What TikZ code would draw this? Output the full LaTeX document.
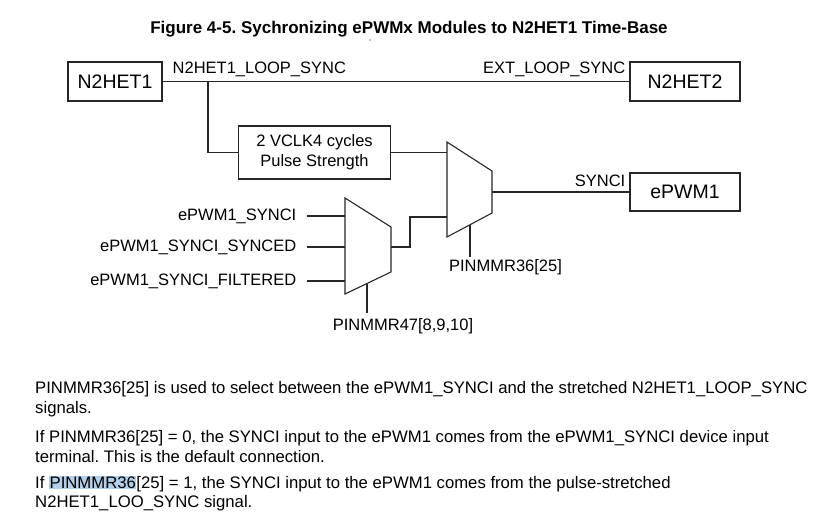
\documentclass[tikz,border=0pt]{standalone}
\usepackage{fontspec}
\setmainfont{Liberation Sans}
\usepackage{xcolor}
\usetikzlibrary{positioning}
\definecolor{selblue}{RGB}{178,208,234}
\frenchspacing

\begin{document}
\begin{tikzpicture}[x=1pt, y=-1pt,
        wire/.style={draw=black!85, line width=1.1pt},
        block/.style={rectangle, wire, inner sep=0pt, font=\fontsize{19.5}{21}\selectfont},
        delay/.style={rectangle, wire, inner sep=0pt, minimum width=152pt, minimum height=53pt, align=center, font=\fontsize{16.5}{20}\selectfont},
        sig/.style={inner sep=0.5pt, font=\fontsize{16.5}{18}\selectfont},
        para/.style={anchor=base west, inner sep=0pt, font=\fontsize{16.7}{19}\selectfont}
    ]
        \useasboundingbox (0,0) rectangle (837,530);

        % title
        \node[font=\fontsize{17}{19}\selectfont\bfseries] (title) at (409,29) {Figure 4-5. Sychronizing ePWMx Modules to N2HET1 Time-Base};
        \fill (370,40) circle (0.7);

        % blocks
        \node[block, minimum width=94pt, minimum height=39pt] (het1) at (115,81.5) {N2HET1};
        \node[block, minimum width=110pt, minimum height=39pt] (het2) at (685,81.5) {N2HET2};
        \node[block, minimum width=110pt, minimum height=38pt] (epwm) at (685,192) {ePWM1};
        \node[delay] (pulse) at (314.5,152.5) {2 VCLK4 cycles\\Pulse Strength};

        % muxes
        \draw[wire] (447,142) -- (492,171) -- (492,213) -- (447,237) -- cycle;
        \draw[wire] (345,198) -- (391,227) -- (391,272) -- (345,294) -- cycle;
        \coordinate (m2in1) at (447,152.5);
        \coordinate (m2in2) at (447,217);
        \coordinate (m2out) at (492,192);
        \coordinate (m2sel) at (470,224.7);
        \coordinate (m2pin) at (470,257);
        \coordinate (m1out) at (391,247);
        \coordinate (m1sel) at (367,283.5);
        \coordinate (m1pin) at (367,313);
        \coordinate (br) at (208,81.5);

        % signal labels
        \node[sig, anchor=south west] (loop) at (172,77) {N2HET1\_LOOP\_SYNC};
        \node[sig, anchor=south east] (ext) at (626,77) {EXT\_LOOP\_SYNC};
        \node[sig, anchor=south east] (synci) at (626,187) {SYNCI};
        \node[sig, anchor=east] (in1) at (297,216) {ePWM1\_SYNCI};
        \node[sig, anchor=east] (in2) at (297,247) {ePWM1\_SYNCI\_SYNCED};
        \node[sig, anchor=east] (in3) at (297,281) {ePWM1\_SYNCI\_FILTERED};
        \node[sig, anchor=north] (sel2) at (505.5,259) {PINMMR36[25]};
        \node[sig, anchor=north] (sel1) at (403,318) {PINMMR47[8,9,10]};

        % wires
        \draw[wire] (het1) -- (het2);
        \draw[wire] (br) |- (pulse.west);
        \draw[wire] (pulse.east) -- (m2in1);
        \draw[wire] (m2out) -- (epwm.west);
        \draw[wire] (m1out) -- (410,247) |- (m2in2);
        \draw[wire] (m2sel) -- (m2pin);
        \draw[wire] (m1sel) -- (m1pin);
        \foreach \y in {216,247,281} {
            \draw[wire] (307,\y) -- (345,\y);
        }

        % description
        \setlength{\fboxsep}{0.5pt}
        \node[para] (p1a) at (35,393) {PINMMR36[25] is used to select between the ePWM1\_SYNCI and the stretched N2HET1\_LOOP\_SYNC};
        \node[para] (p1b) at (35,413) {signals.};
        \node[para] (p2a) at (35,442) {If PINMMR36[25] = 0, the SYNCI input to the ePWM1 comes from the ePWM1\_SYNCI device input};
        \node[para] (p2b) at (35,462) {terminal. This is the default connection.};
        \node[para] (p3a) at (35,488) {If \colorbox{selblue}{PINMMR36}[25] = 1, the SYNCI input to the ePWM1 comes from the pulse-stretched};
        \node[para] (p3b) at (35,507) {N2HET1\_LOO\_SYNC signal.};
    \end{tikzpicture}
\end{document}
